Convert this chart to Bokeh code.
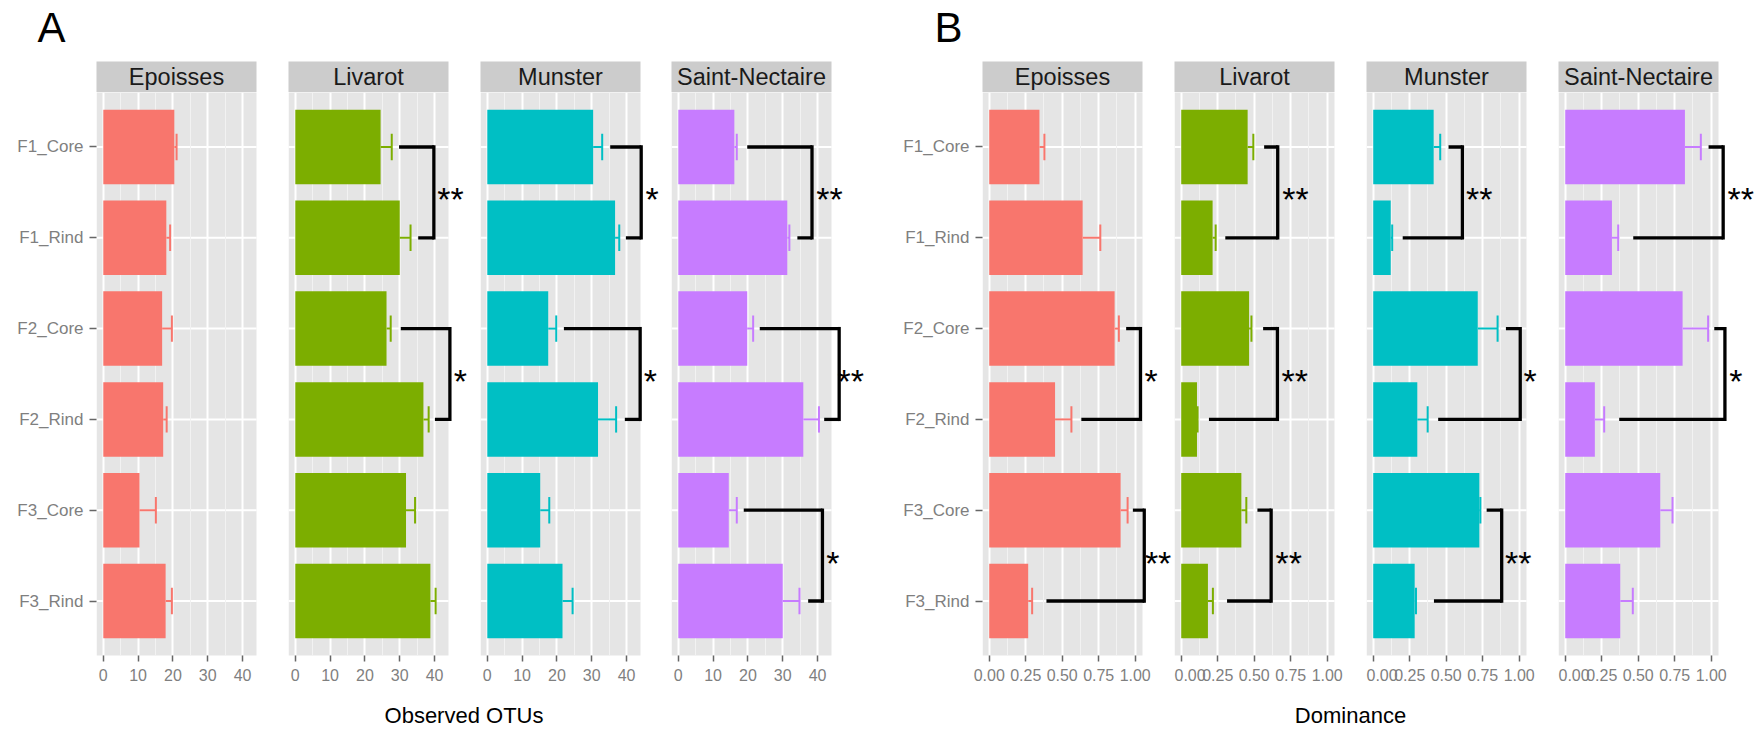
from bokeh.plotting import figure
from bokeh.layouts import row, column
from bokeh.models import Range1d, FactorRange, FixedTicker, ColumnDataSource, NumeralTickFormatter
from bokeh.core.properties import value
from bokeh.embed import file_html
from bokeh.resources import INLINE

# ---------------- data ----------------
categories = ["F1_Core", "F1_Rind", "F2_Core", "F2_Rind", "F3_Core", "F3_Rind"]
cheeses = ["Epoisses", "Livarot", "Munster", "Saint-Nectaire"]
cheese_colors = ["#F8766D", "#7CAE00", "#00BFC4", "#C77CFF"]

# Observed OTUs: mean and standard error
otus_epoisses = [20.4, 18.1, 16.9, 17.2, 10.4, 17.9]
otus_epoisses_se = [0.65, 1.1, 2.8, 1.0, 4.7, 1.8]
otus_livarot = [24.5, 30.0, 26.2, 36.8, 31.8, 38.8]
otus_livarot_se = [3.2, 3.1, 1.2, 1.5, 2.6, 1.5]
otus_munster = [30.4, 36.7, 17.5, 31.8, 15.2, 21.6]
otus_munster_se = [2.6, 1.2, 2.3, 5.2, 2.6, 2.9]
otus_saint_nectaire = [16.1, 31.3, 19.8, 35.9, 14.5, 30.0]
otus_saint_nectaire_se = [0.7, 0.6, 1.7, 4.5, 2.3, 4.8]

# Dominance: mean and standard error
dom_epoisses = [0.344, 0.640, 0.859, 0.451, 0.900, 0.267]
dom_epoisses_se = [0.034, 0.121, 0.029, 0.112, 0.048, 0.027]
dom_livarot = [0.455, 0.215, 0.465, 0.108, 0.412, 0.183]
dom_livarot_se = [0.039, 0.021, 0.016, 0.004, 0.034, 0.034]
dom_munster = [0.414, 0.120, 0.716, 0.302, 0.727, 0.284]
dom_munster_se = [0.045, 0.010, 0.136, 0.071, 0.007, 0.009]
dom_saint_nectaire = [0.820, 0.320, 0.804, 0.203, 0.651, 0.377]
dom_saint_nectaire_se = [0.109, 0.043, 0.175, 0.064, 0.084, 0.086]

# significance brackets: (upper row, lower row, upper start, lower start, bracket x, label, label x)
otus_epoisses_tests = []
otus_livarot_tests = [("F1_Core", "F1_Rind", 29.8, 35.3, 39.8, "**", 44.6),
                      ("F2_Core", "F2_Rind", 30.3, 40.1, 44.4, "*", 47.4)]
otus_munster_tests = [("F1_Core", "F1_Rind", 35.3, 39.8, 44.2, "*", 47.3),
                      ("F2_Core", "F2_Rind", 22.0, 39.5, 43.9, "*", 46.8)]
otus_saint_nectaire_tests = [("F1_Core", "F1_Rind", 19.8, 34.2, 38.4, "**", 43.4),
                             ("F2_Core", "F2_Rind", 23.4, 41.9, 46.2, "**", 49.5),
                             ("F3_Core", "F3_Rind", 18.8, 37.3, 41.4, "*", 44.4)]
dom_epoisses_tests = [("F2_Core", "F2_Rind", 0.938, 0.631, 1.036, "*", 1.109),
                      ("F3_Core", "F3_Rind", 0.984, 0.392, 1.062, "**", 1.157)]
dom_livarot_tests = [("F1_Core", "F1_Rind", 0.568, 0.302, 0.661, "**", 0.783),
                     ("F2_Core", "F2_Rind", 0.561, 0.190, 0.659, "**", 0.778),
                     ("F3_Core", "F3_Rind", 0.522, 0.314, 0.616, "**", 0.737)]
dom_munster_tests = [("F1_Core", "F1_Rind", 0.516, 0.202, 0.611, "**", 0.727),
                     ("F2_Core", "F2_Rind", 0.909, 0.445, 1.007, "*", 1.075),
                     ("F3_Core", "F3_Rind", 0.777, 0.416, 0.880, "**", 0.993)]
dom_saint_nectaire_tests = [("F1_Core", "F1_Rind", 0.982, 0.466, 1.082, "**", 1.203),
                            ("F2_Core", "F2_Rind", 1.021, 0.370, 1.094, "*", 1.169)]

otus_ticks = [0, 10, 20, 30, 40]
otus_minor = [5, 15, 25, 35]
dom_ticks = [0.0, 0.25, 0.5, 0.75, 1.0]
dom_minor = [0.125, 0.375, 0.625, 0.875]

panel_labels = ["A", "B"]
axis_titles = ["Observed OTUs", "Dominance"]

# ---------------- style / layout ----------------
FONT = "Liberation Sans"
PANEL_W = 160
HEADER_H = 61
STRIP_H = 31
PANEL_H = 563
AXIS_H = 36
FOOTER_H = 40
TOTAL_W = 1760

otus_limits = (-1.95, 44.0)
dom_limits = (-0.046, 1.05)

group_a_layout = [(96, 192), (0, 192), (0, 191), (0, 200)]
group_b_layout = [(111, 192), (0, 192), (0, 192), (0, 202)]


def make_strip(name, left_border, frame_w):
    s = figure(width=left_border + frame_w, height=STRIP_H,
               x_range=Range1d(0, 1), y_range=Range1d(0, 1),
               min_border_left=left_border, min_border_right=frame_w - PANEL_W,
               min_border_top=0, min_border_bottom=0,
               x_axis_location=None, y_axis_location=None,
               output_backend="svg", toolbar_location=None)
    s.background_fill_color = "#CCCCCC"
    s.border_fill_color = "white"
    s.outline_line_color = None
    s.grid.visible = False
    s.text(x=[0.5], y=[0.5], text=[name], text_align="center", text_baseline="middle",
           text_font=value(FONT), text_font_size="23.5px", text_color="#1A1A1A")
    return s


def make_facet(color, means, ses, tests, limits, ticks, minor, fmt, left_border, frame_w, show_y):
    xlo, xhi = limits
    ppu = PANEL_W / (xhi - xlo)
    x_end = xlo + frame_w / ppu
    p = figure(width=left_border + frame_w, height=PANEL_H + AXIS_H,
               x_range=Range1d(xlo, x_end),
               y_range=FactorRange(factors=categories[::-1], range_padding=0.1,
                                   range_padding_units="absolute"),
               min_border_left=left_border, min_border_right=0,
               min_border_top=0, min_border_bottom=AXIS_H,
               y_axis_location="left" if show_y else None,
               output_backend="svg", toolbar_location=None)
    p.outline_line_color = None
    p.background_fill_color = "white"
    p.border_fill_color = "white"

    # grey panel
    p.quad(left=[xlo], right=[xhi], bottom=[-5], top=[12], fill_color="#E5E5E5",
           line_color=None, level="image")

    ticker = FixedTicker(ticks=ticks, minor_ticks=minor)
    p.xaxis.ticker = ticker
    p.xaxis.formatter = NumeralTickFormatter(format=fmt)
    p.xgrid.ticker = ticker
    p.xgrid.grid_line_color = "white"
    p.xgrid.grid_line_width = 2
    p.xgrid.minor_grid_line_color = "#F2F2F2"
    p.xgrid.minor_grid_line_width = 1
    p.ygrid.grid_line_color = None

    p.xaxis.axis_line_color = None
    p.xaxis.minor_tick_line_color = None
    p.xaxis.major_tick_line_color = "#666666"
    p.xaxis.major_tick_line_width = 1.5
    p.xaxis.major_tick_out = 6
    p.xaxis.major_tick_in = 0
    p.xaxis.major_label_standoff = 7
    p.xaxis.major_label_text_font = FONT
    p.xaxis.major_label_text_font_size = "16px"
    p.xaxis.major_label_text_color = "#7F7F7F"

    if show_y:
        p.yaxis.axis_line_color = None
        p.yaxis.major_tick_line_color = "#666666"
        p.yaxis.major_tick_line_width = 1.5
        p.yaxis.major_tick_out = 7
        p.yaxis.major_tick_in = 0
        p.yaxis.major_label_standoff = 6
        p.yaxis.major_label_text_font = FONT
        p.yaxis.major_label_text_font_size = "17px"
        p.yaxis.major_label_text_color = "#7F7F7F"

    # horizontal major grid lines (limited to the panel)
    p.segment(x0=xlo, x1=xhi, y0=categories, y1=categories, line_color="white",
              line_width=2, level="underlay")

    src = ColumnDataSource(dict(cat=categories, mean=means,
                                upper=[m + s for m, s in zip(means, ses)]))
    p.hbar(y="cat", left=0, right="mean", height=0.82, source=src,
           fill_color=color, line_color=None)
    p.segment(x0="mean", x1="upper", y0="cat", y1="cat", source=src,
              line_color=color, line_width=2)
    p.rect(x="upper", y="cat", width=2, width_units="screen", height=0.29, source=src,
           fill_color=color, line_color=None)

    if tests:
        tsrc = ColumnDataSource(dict(
            top=[t[0] for t in tests], bot=[t[1] for t in tests],
            top_start=[t[2] for t in tests], bot_start=[t[3] for t in tests],
            vx=[t[4] for t in tests], label=[t[5] for t in tests],
            lx=[t[6] for t in tests], ly=[(t[0], -0.5) for t in tests]))
        p.segment(x0="top_start", x1="vx", y0="top", y1="top", source=tsrc,
                  line_color="black", line_width=3.3, line_cap="butt")
        p.segment(x0="bot_start", x1="vx", y0="bot", y1="bot", source=tsrc,
                  line_color="black", line_width=3.3, line_cap="butt")
        p.segment(x0="vx", x1="vx", y0="top", y1="bot", source=tsrc,
                  line_color="black", line_width=3.3, line_cap="square")
        p.text(x="lx", y="ly", text="label", source=tsrc, text_align="center",
               text_baseline="middle", y_offset=7, text_font=value(FONT),
               text_font_size="34px", text_color="black")
    return p


otus_means = [otus_epoisses, otus_livarot, otus_munster, otus_saint_nectaire]
otus_ses = [otus_epoisses_se, otus_livarot_se, otus_munster_se, otus_saint_nectaire_se]
otus_tests = [otus_epoisses_tests, otus_livarot_tests, otus_munster_tests, otus_saint_nectaire_tests]
dom_means = [dom_epoisses, dom_livarot, dom_munster, dom_saint_nectaire]
dom_ses = [dom_epoisses_se, dom_livarot_se, dom_munster_se, dom_saint_nectaire_se]
dom_tests = [dom_epoisses_tests, dom_livarot_tests, dom_munster_tests, dom_saint_nectaire_tests]

groups = [
    (otus_means, otus_ses, otus_tests, otus_limits, otus_ticks, otus_minor, "0", group_a_layout),
    (dom_means, dom_ses, dom_tests, dom_limits, dom_ticks, dom_minor, "0.00", group_b_layout),
]

strips = []
facets = []
panel_starts = []
x_cursor = 0
for means, ses, tests, limits, ticks, minor, fmt, lay in groups:
    starts = []
    for i, cheese in enumerate(cheeses):
        lb, fw = lay[i]
        starts.append(x_cursor + lb)
        x_cursor += lb + fw
        strips.append(make_strip(cheese, lb, fw))
        facets.append(make_facet(cheese_colors[i], means[i], ses[i], tests[i], limits,
                                 ticks, minor, fmt, lb, fw, i == 0))
    panel_starts.append(starts)

# header with panel letters
header = figure(width=TOTAL_W, height=HEADER_H, x_range=Range1d(0, TOTAL_W),
                y_range=Range1d(HEADER_H, 0), min_border=0,
                x_axis_location=None, y_axis_location=None,
                output_backend="svg", toolbar_location=None)
header.outline_line_color = None
header.grid.visible = False
header.text(x=[panel_starts[0][0] - 59, panel_starts[1][0] - 48], y=[27, 27], text=panel_labels,
            text_align="left", text_baseline="middle", text_font=value(FONT),
            text_font_size="42px", text_color="black")

# footer with axis titles
footer = figure(width=TOTAL_W, height=FOOTER_H, x_range=Range1d(0, TOTAL_W),
                y_range=Range1d(FOOTER_H, 0), min_border=0,
                x_axis_location=None, y_axis_location=None,
                output_backend="svg", toolbar_location=None)
footer.outline_line_color = None
footer.grid.visible = False
centers = [(s[0] + s[-1] + PANEL_W) / 2 for s in panel_starts]
footer.text(x=centers, y=[24] * 2, text=axis_titles, text_align="center",
            text_baseline="middle", text_font=value(FONT), text_font_size="22px",
            text_color="black")

layout = column(header, row(*strips), row(*facets), footer)
open("out.html", "w").write(file_html(layout, INLINE))
